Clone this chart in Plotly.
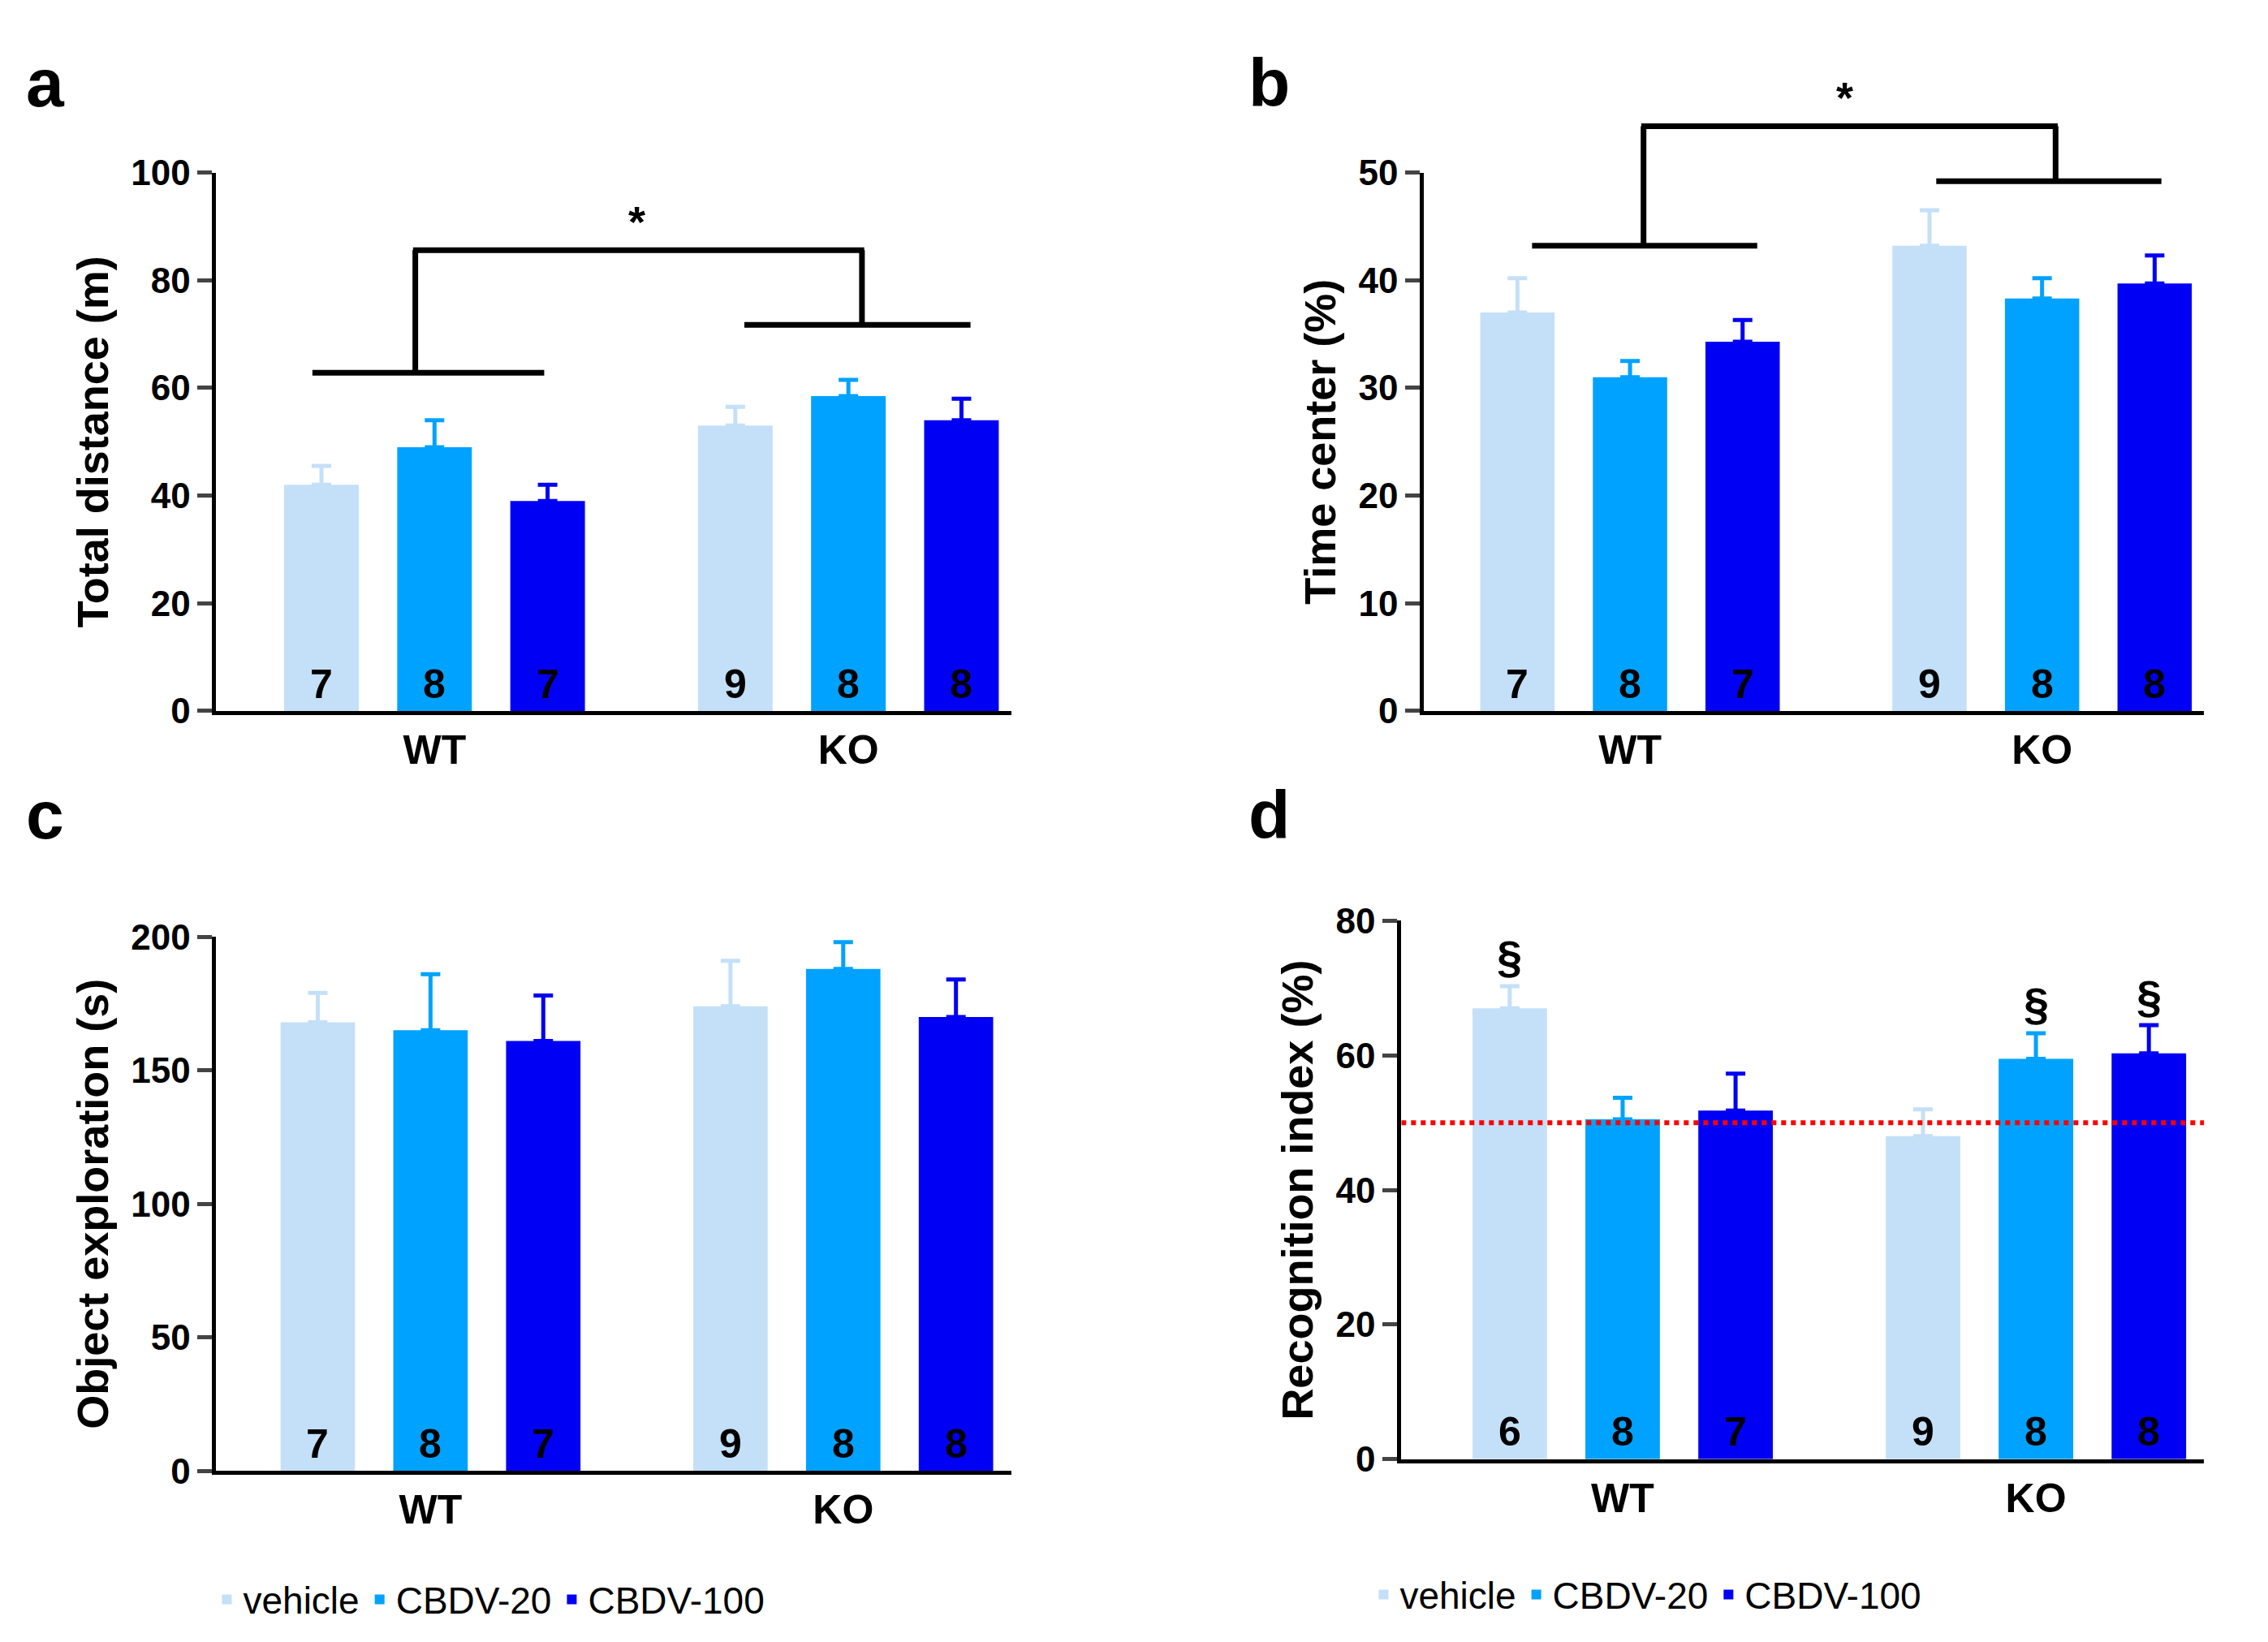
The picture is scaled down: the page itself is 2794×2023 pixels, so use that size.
import plotly.graph_objects as go

W, H = 2794, 2023
groups = ["WT", "KO"]
treatments = ["vehicle", "CBDV-20", "CBDV-100"]
colors = ["#C4E0F8", "#00A2FF", "#0000F5"]

# values [treatment][group]
a_mean = [[42, 53], [49, 58.5], [39, 54]]
a_err = [[3.5, 3.5], [5, 3], [3, 4]]
a_n = [[7, 9], [8, 8], [7, 8]]
b_mean = [[37, 43.2], [31, 38.3], [34.3, 39.7]]
b_err = [[3.2, 3.3], [1.5, 1.9], [2.0, 2.6]]
b_n = [[7, 9], [8, 8], [7, 8]]
c_mean = [[168, 174], [165, 188], [161, 170]]
c_err = [[11, 17], [21, 10], [17, 14]]
c_n = [[7, 9], [8, 8], [7, 8]]
d_mean = [[67, 48], [50.5, 59.5], [51.8, 60.3]]
d_err = [[3.3, 4], [3.2, 3.8], [5.5, 4.2]]
d_n = [[6, 9], [8, 8], [7, 8]]

pos = [[0, 3.66], [1, 4.66], [2, 5.66]]  # treatment x group positions
FONT = "Liberation Sans, Arial, sans-serif"

panels = [
    dict(mean=a_mean, err=a_err, n=a_n, dom_x=[0.0925, 0.443], dom_y=[0.573, 0.909],
         xr=[-0.93, 6.1], yr=[0, 100], dt=20, title="Total distance (m)", letter="a"),
    dict(mean=b_mean, err=b_err, n=b_n, dom_x=[0.625, 0.969], dom_y=[0.573, 0.909],
         xr=[-0.83, 6.1], yr=[0, 50], dt=10, title="Time center (%)", letter="b"),
    dict(mean=c_mean, err=c_err, n=c_n, dom_x=[0.0925, 0.443], dom_y=[0.0987, 0.432],
         xr=[-0.9, 6.15], yr=[0, 200], dt=50, title="Object exploration (s)", letter="c"),
    dict(mean=d_mean, err=d_err, n=d_n, dom_x=[0.615, 0.969], dom_y=[0.106, 0.442],
         xr=[-0.96, 6.15], yr=[0, 80], dt=20, title="Recognition index (%)", letter="d"),
]

fig = go.Figure()
shapes, annos = [], []

def to_paper(p, x, y):
    fx = p["dom_x"][0] + (x - p["xr"][0]) / (p["xr"][1] - p["xr"][0]) * (p["dom_x"][1] - p["dom_x"][0])
    fy = p["dom_y"][0] + (y - p["yr"][0]) / (p["yr"][1] - p["yr"][0]) * (p["dom_y"][1] - p["dom_y"][0])
    return fx, fy

def pline(p, x0, y0, x1, y1, **kw):
    a0 = to_paper(p, x0, y0); a1 = to_paper(p, x1, y1)
    shapes.append(dict(type="line", xref="paper", yref="paper", x0=a0[0], y0=a0[1], x1=a1[0], y1=a1[1],
                       line=kw.get("line", dict(color="black", width=7))))

for i, p in enumerate(panels):
    k = "" if i == 0 else str(i + 1)
    xa, ya = "x" + k, "y" + k
    for t in range(3):
        fig.add_trace(go.Bar(
            x=pos[t], y=p["mean"][t], xaxis=xa, yaxis=ya, width=0.66,
            marker=dict(color=colors[t], line=dict(width=0)), name=treatments[t],
            error_y=dict(type="data", array=p["err"][t], arrayminus=[0, 0], symmetric=False,
                         color=colors[t], thickness=5, width=12),
            showlegend=(i in (2, 3)), legend=("legend" if i == 2 else "legend2"),
        ))
        for g in range(2):
            annos.append(dict(x=pos[t][g], y=p["yr"][1] * 0.005, xref=xa, yref=ya, yanchor="bottom",
                              text="<b>%d</b>" % p["n"][t][g], showarrow=False,
                              font=dict(size=50, color="black", family=FONT)))
    fig.layout["xaxis" + k] = dict(domain=p["dom_x"], range=p["xr"], anchor=ya, showline=True,
                                   linewidth=5, linecolor="black", tickvals=[1, 4.66], ticktext=groups,
                                   ticks="", showgrid=False, zeroline=False,
                                   tickfont=dict(size=50, family=FONT, weight="bold", color="black"))
    fig.layout["yaxis" + k] = dict(domain=p["dom_y"], range=p["yr"], anchor=xa, showline=True,
                                   linewidth=5, linecolor="black", dtick=p["dt"], ticks="outside",
                                   ticklen=18, tickwidth=5, showgrid=False, zeroline=False,
                                   title=dict(text=p["title"], standoff=12,
                                              font=dict(size=54, family=FONT, weight="bold", color="black")),
                                   tickfont=dict(size=44, family=FONT, weight="bold", color="black"))
    lx, ly = to_paper(p, p["xr"][0], p["yr"][1])

# panel letters
for letter, x, y in [("a", 0.008, 0.99), ("b", 0.547, 0.99), ("c", 0.008, 0.533), ("d", 0.547, 0.533)]:
    annos.append(dict(x=x, y=y, xref="paper", yref="paper", text="<b>%s</b>" % letter, showarrow=False,
                      xanchor="left", yanchor="top", font=dict(size=84, family=FONT, color="black")))

# brackets panel a
pa = panels[0]
pline(pa, -0.08, 62.8, 1.97, 62.8); pline(pa, 3.74, 71.7, 5.74, 71.7)
pline(pa, 0.83, 62.8, 0.83, 85.6); pline(pa, 4.78, 71.7, 4.78, 85.6); pline(pa, 0.81, 85.6, 4.80, 85.6)
sx, sy = to_paper(pa, 2.7, 86)
annos.append(dict(x=sx, y=sy, xref="paper", yref="paper", text="<b>*</b>", showarrow=False, yanchor="bottom",
                  font=dict(size=54, family=FONT, color="black")))
# brackets panel b
pb = panels[1]
pline(pb, 0.13, 43.2, 2.13, 43.2); pline(pb, 3.72, 49.2, 5.72, 49.2)
pline(pb, 1.12, 43.2, 1.12, 54.3); pline(pb, 4.78, 49.2, 4.78, 54.3); pline(pb, 1.10, 54.3, 4.80, 54.3)
sx, sy = to_paper(pb, 3.0, 54.6)
annos.append(dict(x=sx, y=sy, xref="paper", yref="paper", text="<b>*</b>", showarrow=False, yanchor="bottom",
                  font=dict(size=54, family=FONT, color="black")))
# panel d chance line and section marks
pd_ = panels[3]
shapes.append(dict(type="line", xref="x4", yref="y4", x0=pd_["xr"][0], x1=pd_["xr"][1], y0=50, y1=50,
                   line=dict(color="#FF0000", width=6, dash="dot")))
for xv, yv in [(0, 70.6), (4.66, 63.6), (5.66, 64.8)]:
    annos.append(dict(x=xv, y=yv, xref="x4", yref="y4", text="<b>§</b>", showarrow=False, yanchor="bottom",
                      font=dict(size=56, family=FONT, color="black")))

fig.update_layout(
    width=W, height=H, plot_bgcolor="white", paper_bgcolor="white", barmode="overlay",
    margin=dict(l=0, r=0, t=0, b=0), shapes=shapes, annotations=annos,
    legend=dict(orientation="h", x=0.09, y=0.0, xanchor="left", yanchor="bottom",
                font=dict(size=46, family=FONT, color="black")),
    legend2=dict(orientation="h", x=0.6, y=0.003, xanchor="left", yanchor="bottom",
                 font=dict(size=46, family=FONT, color="black")),
)
fig.write_html("out.html")
